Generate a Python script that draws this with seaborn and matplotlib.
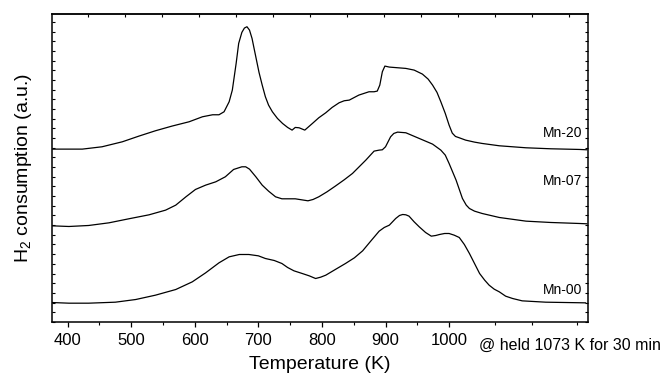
import numpy as np
import pandas as pd
import seaborn as sns
import matplotlib.pyplot as plt
from matplotlib.ticker import MultipleLocator, FixedLocator

# TPR curves (temperature in K, signal in a.u.)
temp_mn20 = [375, 423, 454, 486, 512, 538, 564, 591, 612, 628, 638, 646, 654, 659,
             665, 669, 674, 678, 682, 686, 690, 693, 697, 701, 706, 711, 716, 722,
             730, 738, 746, 753, 758, 764, 773, 779, 785, 795, 806, 816, 827, 835,
             843, 858, 874, 882, 887, 891, 895, 899, 906, 932, 945, 958, 967, 974,
             981, 987, 994, 1000, 1005, 1010, 1016, 1026, 1040, 1052, 1079, 1121,
             1160, 1205, 1217]
h2_mn20 = [518, 518, 525, 540, 557, 573, 587, 600, 615, 621, 621, 630, 660, 695,
           775, 835, 868, 881, 885, 875, 850, 822, 785, 748, 710, 675, 650, 630,
           610, 595, 583, 575, 583, 582, 575, 585, 595, 612, 627, 643, 657, 663,
           665, 680, 690, 690, 692, 710, 750, 767, 764, 760, 755, 743, 728, 710,
           688, 660, 625, 590, 566, 556, 552, 545, 539, 535, 528, 522,
           519, 517, 516]

temp_mn07 = [375, 402, 433, 465, 496, 528, 554, 570, 586, 601, 617, 633, 648, 661,
             674, 680, 686, 696, 706, 716, 727, 737, 758, 768, 778, 786, 795, 808,
             821, 835, 848, 869, 882, 890, 895, 900, 908, 913, 919, 932, 953, 974,
             987, 994, 1000, 1011, 1021, 1027, 1032, 1040, 1052, 1079, 1121, 1160,
             1205, 1217]
h2_mn07 = [288, 286, 289, 297, 309, 321, 335, 350, 375, 397, 410, 420, 435, 457,
           465, 465, 458, 435, 410, 392, 375, 369, 369, 366, 363, 367, 375, 390,
           407, 426, 445, 485, 512, 515, 516, 525, 555, 565, 569, 567, 550, 533,
           515, 500, 475, 425, 370, 350, 340, 332, 325, 313, 302, 298,
           295, 294]

temp_mn00 = [375, 402, 433, 475, 507, 538, 570, 596, 617, 638, 654, 670, 685, 700,
             711, 725, 737, 746, 756, 769, 780, 790, 798, 806, 821, 837, 851, 864,
             878, 890, 898, 906, 916, 922, 927, 932, 937, 945, 953, 963, 972, 979,
             985, 993, 1000, 1008, 1016, 1024, 1032, 1040, 1048, 1056, 1063, 1071,
             1079, 1089, 1100, 1115, 1152, 1215]
h2_mn00 = [58, 56, 56, 59, 67, 80, 97, 120, 147, 177, 195, 202, 202, 198,
           190, 184, 175, 163, 153, 145, 138, 130, 134, 140, 157, 175, 192, 213,
           245, 272, 283, 290, 310, 319, 322, 321, 317, 300, 285, 268, 257, 259,
           262, 265, 265, 260, 253, 232, 205, 175, 145, 125, 110, 98,
           90, 77, 70, 63, 59, 57]

samples = ['Mn-20', 'Mn-07', 'Mn-00']
label_y = [566, 422, 95]
x_ticks = [400, 500, 600, 700, 800, 900, 1000]

sns.set_theme(style='ticks')
plt.rcParams['font.family'] = ['Liberation Sans', 'DejaVu Sans']
plt.rcParams['text.color'] = 'black'
plt.rcParams['axes.labelcolor'] = 'black'
plt.rcParams['xtick.color'] = 'black'
plt.rcParams['ytick.color'] = 'black'

fig = plt.figure(figsize=(6.64, 3.80), dpi=100)
ax = fig.add_axes([0.078, 0.153, 0.808, 0.810])

curves = [(temp_mn20, h2_mn20), (temp_mn07, h2_mn07), (temp_mn00, h2_mn00)]
for name, (t, h), ly in zip(samples, curves, label_y):
    df = pd.DataFrame({'T': t, 'H2': h})
    sns.lineplot(data=df, x='T', y='H2', ax=ax, color='black', lw=0.9,
                 estimator=None, sort=False)
    ax.text(1209, ly, name, ha='right', va='center', fontsize=10)

ax.set_xlim(375, 1219)
ax.set_ylim(0, 923)

for s in ax.spines.values():
    s.set_linewidth(1.1)
    s.set_color('black')

# bottom axis
ax.set_xticks(x_ticks)
ax.set_xticklabels([str(v) for v in x_ticks])
ax.xaxis.set_minor_locator(FixedLocator([450, 550, 650, 750, 850, 950, 1073, 1131, 1202]))
ax.tick_params(axis='x', which='major', direction='out', length=3.5, width=0.9,
               labelsize=12, pad=4.5)
ax.tick_params(axis='x', which='minor', direction='out', length=2, width=0.8)

# left / right axis, no labels
ax.yaxis.set_major_locator(MultipleLocator(29))
ax.tick_params(axis='y', which='major', left=True, right=True, direction='in',
               length=2.5, width=0.8, labelleft=False)

# top ticks
top = ax.secondary_xaxis('top')
top.set_xticks(np.arange(431.5, 1215, 58.3))
top.tick_params(direction='in', length=2, width=0.8, labeltop=False)
top.spines['top'].set_linewidth(1.1)

ax.text(1047, -0.075, '@ held 1073 K for 30 min', transform=ax.get_xaxis_transform(),
        ha='left', va='center', fontsize=11.5)

ax.set_xlabel('Temperature (K)', fontsize=14, labelpad=6)
ax.set_ylabel('H$_\\mathregular{2}$ consumption (a.u.)', fontsize=14, labelpad=13)

fig.savefig('out.png', dpi=100)
